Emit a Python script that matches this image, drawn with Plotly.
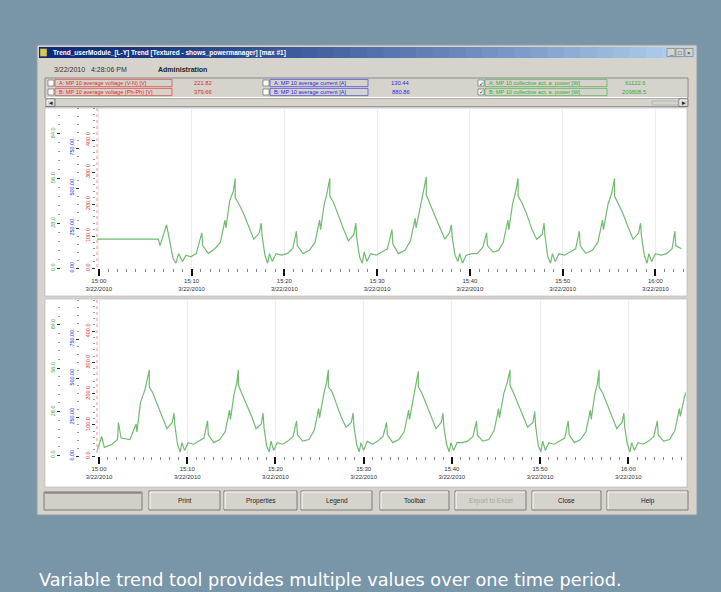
import plotly.graph_objects as go

W, H = 721, 592

# ---------------- data ----------------
TIME_TICKS_MIN = [0, 10, 20, 30, 40, 50, 60]
TIME_LABELS = ["15:00", "15:10", "15:20", "15:30", "15:40", "15:50", "16:00"]
DATE_LABEL = "3/22/2010"

# (minutes after 15:00, active power kW) read from the upper trend
TOP_TREND = [
    (-0.2, 18), (6.4, 18), (6.6, 14), (7.0, 22), (7.3, 27), (7.6, 18), (8.0, 6), (8.3, 3), (8.6, 9),
    (9.0, 4), (9.4, 8), (9.9, 7), (10.5, 9), (11.1, 22), (11.2, 14), (11.8, 9), (12.5, 12), (13.1, 16),
    (13.6, 30), (13.7, 25), (14.1, 42), (14.5, 48),
    (14.7, 56), (14.7, 44), (15.1, 40), (15.6, 34), (16.2, 25), (16.7, 18), (17.3, 22), (17.5, 28),
    (17.6, 20), (17.9, 8), (18.2, 3), (18.4, 9), (18.7, 4), (19.1, 9), (19.7, 8), (20.3, 9), (20.9, 12),
    (21.3, 23), (21.4, 14), (22.0, 9), (22.7, 11), (23.3, 16), (23.8, 30), (23.9, 24), (24.3, 40), (24.6, 47),
    (24.9, 56), (24.9, 45), (25.3, 41), (25.8, 33), (26.4, 24), (26.9, 17), (27.5, 21), (27.7, 28),
    (27.8, 19), (28.1, 7), (28.4, 3), (28.6, 10), (28.9, 4), (29.3, 9), (29.9, 8), (30.5, 10), (31.1, 12),
    (31.6, 24), (31.7, 15), (32.3, 9), (33.0, 11), (33.6, 17), (34.1, 31), (34.2, 25), (34.7, 41), (35.0, 48),
    (35.3, 57), (35.3, 46), (35.7, 40), (36.2, 33), (36.8, 25), (37.3, 18), (37.8, 22), (38.0, 27),
    (38.1, 19), (38.4, 8), (38.7, 4), (38.9, 9), (39.2, 3), (39.6, 8), (40.2, 9), (40.8, 9), (41.4, 13),
    (41.8, 22), (41.9, 14), (42.5, 10), (43.1, 11), (43.6, 16), (44.1, 30), (44.2, 24), (44.6, 40), (44.9, 47),
    (45.2, 56), (45.2, 45), (45.6, 41), (46.1, 34), (46.7, 24), (47.2, 18), (47.8, 21), (48.0, 28),
    (48.1, 20), (48.4, 7), (48.7, 3), (48.9, 9), (49.2, 4), (49.6, 9), (50.2, 8), (50.8, 10), (51.4, 12),
    (51.8, 23), (51.9, 14), (52.5, 9), (53.2, 11), (53.8, 16), (54.3, 30), (54.4, 24), (54.9, 40), (55.3, 47),
    (55.6, 56), (55.6, 45), (56.0, 40), (56.5, 34), (57.1, 25), (57.6, 18), (58.2, 22), (58.4, 28),
    (58.5, 20), (58.8, 8), (59.1, 3), (59.3, 9), (59.6, 4), (60.0, 9), (60.6, 8), (61.2, 9), (61.8, 12),
    (62.1, 23), (62.2, 14), (62.8, 12),
]

# (minutes after 15:00, active power kW) read from the lower trend
BOTTOM_TREND = [
    (-0.2, 3), (0.3, 12), (0.6, 5), (1.5, 7), (2.1, 10), (2.2, 21), (2.5, 11), (3.5, 10), (4.2, 20),
    (4.3, 15), (4.7, 34), (5.2, 42),
    (5.7, 55), (5.7, 44), (6.1, 40), (6.6, 33), (7.2, 24), (7.7, 17), (8.3, 21), (8.5, 27), (8.6, 19),
    (8.9, 7), (9.2, 2), (9.4, 8), (9.7, 3), (10.1, 8), (10.7, 7), (11.3, 9), (11.9, 11), (12.3, 22),
    (12.4, 13), (13.0, 8), (13.7, 10), (14.3, 15), (14.8, 29), (14.9, 23), (15.3, 39), (15.6, 46),
    (15.8, 55), (15.8, 45), (16.2, 40), (16.7, 33), (17.3, 25), (17.8, 17), (18.4, 20), (18.6, 27),
    (18.7, 18), (19.0, 6), (19.3, 2), (19.5, 9), (19.8, 3), (20.2, 8), (20.8, 7), (21.4, 9), (22.0, 12),
    (22.4, 22), (22.5, 13), (23.1, 9), (23.8, 10), (24.4, 16), (24.9, 30), (25.0, 24), (25.5, 40), (25.8, 47),
    (26.0, 55), (26.0, 44), (26.4, 41), (26.9, 33), (27.5, 24), (28.0, 18), (28.6, 21), (28.8, 27),
    (28.9, 19), (29.2, 7), (29.5, 2), (29.7, 8), (30.0, 3), (30.4, 9), (31.0, 7), (31.6, 9), (32.2, 12),
    (32.6, 21), (32.7, 13), (33.3, 8), (34.0, 10), (34.6, 15), (35.1, 29), (35.2, 23), (35.7, 39), (36.0, 46),
    (36.2, 54), (36.2, 44), (36.6, 40), (37.1, 33), (37.7, 24), (38.2, 17), (38.8, 21), (39.0, 27),
    (39.1, 18), (39.4, 7), (39.7, 2), (39.9, 8), (40.2, 3), (40.6, 8), (41.2, 8), (41.8, 9), (42.4, 12),
    (42.8, 22), (42.9, 13), (43.5, 9), (44.2, 10), (44.8, 16), (45.3, 30), (45.4, 24), (45.9, 40), (46.3, 47),
    (46.6, 55), (46.6, 45), (47.0, 40), (47.5, 33), (48.1, 25), (48.6, 18), (49.2, 21), (49.4, 28),
    (49.5, 19), (49.8, 6), (50.1, 2), (50.3, 9), (50.6, 3), (51.0, 8), (51.6, 7), (52.2, 9), (52.8, 11),
    (53.2, 22), (53.3, 13), (53.9, 8), (54.6, 10), (55.2, 15), (55.7, 29), (55.8, 23), (56.2, 39), (56.5, 46),
    (56.7, 55), (56.7, 44), (57.1, 40), (57.6, 33), (58.2, 24), (58.7, 17), (59.3, 21), (59.5, 27),
    (59.6, 18), (59.9, 7), (60.2, 2), (60.4, 8), (60.7, 3), (61.1, 8), (61.7, 7), (62.3, 9), (62.9, 12),
    (63.3, 22), (63.4, 13), (64.0, 9), (64.7, 10), (65.3, 16), (65.8, 30), (65.9, 25), (66.4, 38), (66.8, 44),
]

GREEN_TICKS = [0, 28, 56, 84]          # kW
BLUE_TICKS = [0, 250, 500, 750]         # A
RED_TICKS = [0, 100, 200, 300, 400]     # V

LEGEND_ROWS = [
    # (colour, row-1 label, row-1 value, row-2 label, row-2 value, checked)
    ("#e02828", "A: MP 10 average voltage (V-N) [V]", "221.82",
     "B: MP 10 average voltage (Ph-Ph) [V]", "379.66", False),
    ("#2a2ae0", "A: MP 10 average current [A]", "130.44",
     "B: MP 10 average current [A]", "880.86", False),
    ("#3aaa3a", "A: MP 10 collective act. a. power [W]", "61122.6",
     "B: MP 10 collective act. a. power [W]", "209808.5", True),
]
BUTTONS = ["Print", "Properties", "Legend", "Toolbar", "Export to Excel", "Close", "Help"]

TITLE = "Trend_userModule_[L-Y] Trend [Textured - shows_powermanager] [max #1]"
STAMP = "3/22/2010   4:28:06 PM"
USER = "Administration"
CAPTION = "Variable trend tool provides multiple values over one time period."

# ---------------- helpers ----------------
BG = "#7995a8"
WIN = "#d6d3cc"
shapes, annos = [], []


def X(p):
    return p / W


def Y(p):
    return 1 - p / H


def rect(x0, y0, x1, y1, fill, line=None, lw=1, layer="below"):
    shapes.append(dict(type="rect", xref="paper", yref="paper",
                       x0=X(x0), x1=X(x1), y0=Y(y1), y1=Y(y0),
                       fillcolor=fill, layer=layer,
                       line=dict(color=line if line else fill, width=lw if line else 0)))


def hline(x0, x1, y, color, w=1, dash="solid", layer="below"):
    shapes.append(dict(type="line", xref="paper", yref="paper", x0=X(x0), x1=X(x1),
                       y0=Y(y), y1=Y(y), line=dict(color=color, width=w, dash=dash), layer=layer))


def vline(x, y0, y1, color, w=1, dash="solid", layer="below"):
    shapes.append(dict(type="line", xref="paper", yref="paper", x0=X(x), x1=X(x),
                       y0=Y(y0), y1=Y(y1), line=dict(color=color, width=w, dash=dash), layer=layer))


def text(x, y, s, size=7, color="#222", anchor="left", bold=False, family="Liberation Sans"):
    annos.append(dict(xref="paper", yref="paper", x=X(x), y=Y(y), text=f"<b>{s}</b>" if bold else s,
                      showarrow=False, xanchor=anchor, yanchor="middle",
                      font=dict(size=size, color=color, family=family)))


def lerp(c1, c2, t):
    a = [int(c1[i:i + 2], 16) for i in (1, 3, 5)]
    b = [int(c2[i:i + 2], 16) for i in (1, 3, 5)]
    return "#" + "".join(f"{round(a[i] + (b[i] - a[i]) * t):02x}" for i in range(3))


def button(x0, y0, x1, y1, label, enabled=True):
    rect(x0, y0, x1, y1, WIN, "#7a7a7a", 1)
    hline(x0 + 1, x1 - 1, y0 + 1, "#ffffff")
    vline(x0 + 1, y0 + 1, y1 - 1, "#ffffff")
    text((x0 + x1) / 2, (y0 + y1) / 2, label, 6.5, "#222" if enabled else "#a5a5a5", "center")


# ---------------- window chrome ----------------
rect(37, 45, 697, 515, WIN, "#9a9a9a", 1)
# title bar gradient
n = 40
for i in range(n):
    xa = 39 + (695 - 39) * i / n
    xb = 39 + (695 - 39) * (i + 1) / n + 0.6
    rect(xa, 47, xb, 58, lerp("#0c2a78", "#b4d2f0", (i / (n - 1)) ** 1.3))
rect(40, 48.5, 47, 56.5, "#d8c860", "#404040", 0.5)
text(51, 52.5, TITLE, 6.5, "#ffffff", bold=True)
for j, g in enumerate(["_", "□", "×"]):
    bx = 667 + j * 9
    rect(bx, 48.5, bx + 8, 56.5, WIN, "#606060", 0.5)
    text(bx + 4, 52.5, g, 6, "#111", "center")

# header
text(52, 70, STAMP, 7, "#333")
text(156, 70, USER, 7, "#222", bold=True)
rect(45, 78, 688, 98, WIN, "#8a8a8a", 1)
hline(46, 687, 97.5, "#ffffff")

cols = [(48, 57, 172, 214), (263, 272, 368, 412), (478, 487, 607, 648)]
for (cb, lx, lbx, vx), (col, l1, v1, l2, v2, chk) in zip(cols, LEGEND_ROWS):
    for ry, lab, val in ((83, l1, v1), (92, l2, v2)):
        rect(cb, ry - 3, cb + 6, ry + 3, "#ffffff", "#555555", 0.6)
        if chk:
            text(cb + 3, ry, "✓", 6, "#111", "center", family="DejaVu Sans")
        rect(lx - 2, ry - 3.6, lbx, ry + 3.6, "rgba(0,0,0,0)", col, 0.6)
        text(lx, ry, lab, 5.6, col)
        text(vx, ry, val, 5.8, col, "right")

# scroll row
hline(45, 688, 106.5, "#9a9a9a")
button(46, 99, 55, 106.5, "◂")
rect(652, 101, 678, 105, WIN, "#9a9a9a", 0.5)
button(679, 99, 688, 106.5, "▸")

# white panels
rect(45, 108, 687, 296, "#ffffff", "#b0b0b0", 0.6)
rect(45, 299, 687, 487, "#ffffff", "#b0b0b0", 0.6)
for (ya, yb) in ((108, 268), (300, 456)):
    vline(97, ya, yb, "#f09090", 1, "dot")

# button row
rect(44, 492, 142, 510, "#d2cfc8", "#7a7a7a", 1)
hline(45, 141, 493, "#6a6a6a", 1)
bx_pos = [(149, 220), (224, 297), (301, 372), (380, 449), (455, 526), (532, 601), (607, 688)]
for (a, b), lab in zip(bx_pos, BUTTONS):
    button(a, 491, b, 510, lab, lab != "Export to Excel")

# caption
text(37, 580, CAPTION, 17.7, "#ffffff", family="DejaVu Sans")

# ---------------- traces & axes ----------------
fig = go.Figure()
LINE = "#72ba72"

top_x = [p[0] for p in TOP_TREND]
top_y = [p[1] for p in TOP_TREND]
bot_x = [p[0] for p in BOTTOM_TREND]
bot_y = [p[1] for p in BOTTOM_TREND]

fig.add_trace(go.Scatter(x=top_x, y=top_y, xaxis="x", yaxis="y", mode="lines",
                         line=dict(color=LINE, width=1.2), hoverinfo="skip", showlegend=False))
fig.add_trace(go.Scatter(x=bot_x, y=bot_y, xaxis="x2", yaxis="y4", mode="lines",
                         line=dict(color=LINE, width=1.2), hoverinfo="skip", showlegend=False))
# placeholders so the current and voltage axes are drawn
for xa, ya, yv in (("x", "y2", BLUE_TICKS[0]), ("x", "y3", RED_TICKS[0]),
                   ("x2", "y5", BLUE_TICKS[0]), ("x2", "y6", RED_TICKS[0])):
    fig.add_trace(go.Scatter(x=[TIME_TICKS_MIN[0]], y=[yv], xaxis=xa, yaxis=ya, mode="markers",
                             marker=dict(size=1, opacity=0), hoverinfo="skip", showlegend=False))

tick_text = [f"{t}<br>{DATE_LABEL}" for t in TIME_LABELS]


def xaxis(rng, anchor):
    return dict(domain=[X(97), X(686)], range=rng, anchor=anchor, tickmode="array",
                tickvals=TIME_TICKS_MIN, ticktext=tick_text, ticks="outside", ticklen=7,
                tickwidth=2, tickcolor="#111", showline=False, zeroline=False,
                showgrid=True, gridcolor="#ececec", gridwidth=1, automargin=False,
                tickfont=dict(size=6, color="#333", family="Liberation Sans"),
                minor=dict(tickmode="linear", tick0=0, dtick=1, ticks="outside", ticklen=3,
                           tickcolor="#888", tickwidth=1, showgrid=False),
                fixedrange=True)


def yaxis(dom, rng, pos, vals, color, fmt, overlay=None):
    d = dict(domain=dom, range=rng, anchor="free", position=X(pos), side="left",
             tickmode="array", tickvals=vals, ticktext=[fmt.format(v) for v in vals],
             tickangle=-90, ticks="outside", ticklen=3, tickcolor="#333", tickwidth=1,
             tickfont=dict(size=5.5, color=color, family="Liberation Sans"),
             showgrid=False, zeroline=False, showline=False, fixedrange=True, automargin=False,
             minor=dict(tickmode="linear", tick0=0, dtick=(vals[1] - vals[0]) / 5, ticks="outside",
                        ticklen=2, tickcolor="#999", showgrid=False))
    if overlay:
        d["overlaying"] = overlay
    return d


dom1 = [Y(268), Y(108)]
dom2 = [Y(456), Y(300)]

fig.update_layout(
    width=W, height=H, autosize=False,
    margin=dict(l=0, r=0, t=0, b=0, pad=0, autoexpand=False),
    paper_bgcolor=BG, plot_bgcolor="#ffffff",
    showlegend=False, hovermode=False, dragmode=False,
    xaxis=xaxis([-0.2, 63.3], "y"),
    xaxis2=xaxis([-0.23, 66.55], "y4"),
    yaxis=yaxis(dom1, [0, 100], 60, GREEN_TICKS, "#3aaa3a", "{:.1f}"),
    yaxis2=yaxis(dom1, [0, 1000], 79, BLUE_TICKS, "#2a2ae0", "{:.2f}", "y"),
    yaxis3=yaxis(dom1, [0, 500], 95, RED_TICKS, "#e02828", "{:.1f}", "y"),
    yaxis4=yaxis(dom2, [-0.6, 100], 60, GREEN_TICKS, "#3aaa3a", "{:.1f}"),
    yaxis5=yaxis(dom2, [0, 1000], 79, BLUE_TICKS, "#2a2ae0", "{:.2f}", "y4"),
    yaxis6=yaxis(dom2, [0, 500], 95, RED_TICKS, "#e02828", "{:.1f}", "y4"),
    shapes=shapes, annotations=annos,
)

fig.write_html("out.html", config={"displayModeBar": False, "staticPlot": True},
               post_script="document.body.style.margin='0px';")
